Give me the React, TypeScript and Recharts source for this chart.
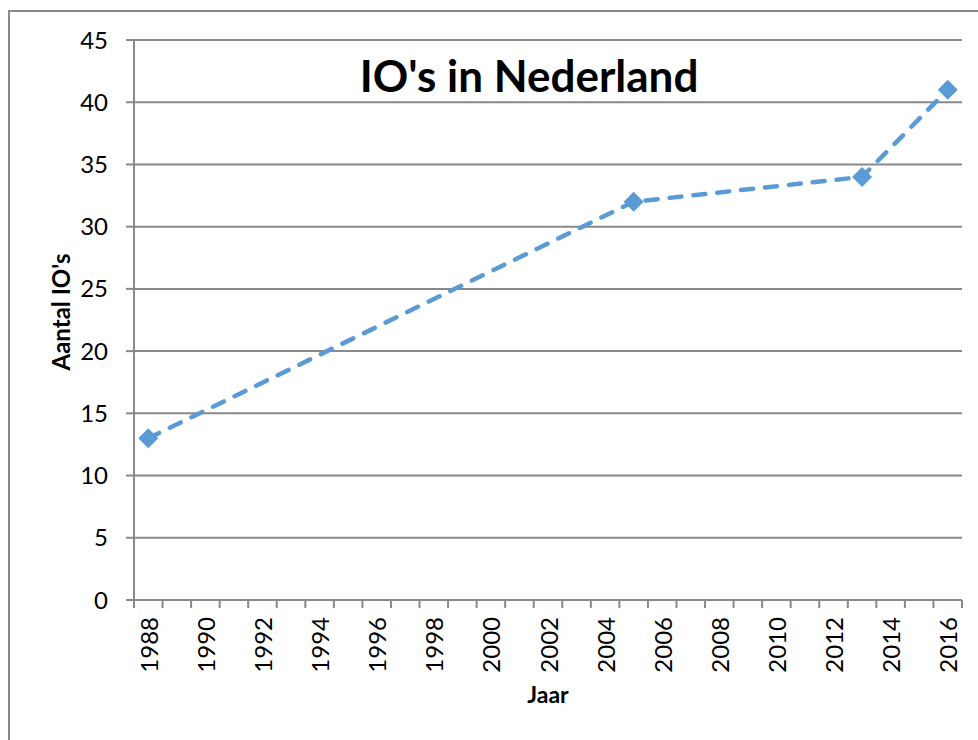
import { LineChart, Line, XAxis, YAxis, CartesianGrid, Customized } from "recharts";

const years = [1988, 2005, 2013, 2016];
const counts = [13, 32, 34, 41];
const yearLabels = [
  1988, 1990, 1992, 1994, 1996, 1998, 2000, 2002, 2004, 2006, 2008, 2010, 2012, 2014, 2016,
];
const countTicks = [0, 5, 10, 15, 20, 25, 30, 35, 40, 45];

const BLUE = "#5b9bd5";
const GREY = "#898989";
const FONT = "Lato, 'Liberation Sans', sans-serif";

const data = years.map((year, i) => ({ year, count: counts[i] }));

// one category per year: tick marks sit on the borders, labels in the middle
const firstYear = yearLabels[0];
const lastYear = yearLabels[yearLabels.length - 1];
const borders: number[] = [];
for (let y = firstYear - 0.5; y <= lastYear + 0.5; y += 1) borders.push(y);
const xTicks = [...borders, ...yearLabels].sort((a, b) => a - b);

function YearTick({ x, y, payload }: any) {
  const v = payload.value;
  if (!Number.isInteger(v)) {
    return <line x1={x} x2={x} y1={y} y2={y + 8} stroke={GREY} strokeWidth={2} />;
  }
  const ty = y + 17;
  return (
    <text
      x={x}
      y={ty}
      transform={`rotate(-90 ${x} ${ty})`}
      textAnchor="end"
      dominantBaseline="central"
      fontFamily={FONT}
      fontSize={24}
      fill="#000"
    >
      {v}
    </text>
  );
}

function YTitle({ viewBox }: any) {
  const cx = viewBox.x + 60;
  const cy = viewBox.y + viewBox.height / 2 - 8;
  return (
    <text
      x={cx}
      y={cy}
      transform={`rotate(-90 ${cx} ${cy})`}
      textAnchor="middle"
      dominantBaseline="central"
      fontFamily={FONT}
      fontWeight="bold"
      fontSize={24}
      fill="#000"
    >
      Aantal IO's
    </text>
  );
}

function Diamond({ cx, cy }: any) {
  if (cx == null || cy == null) return null;
  const r = 10;
  return (
    <polygon
      points={`${cx},${cy - r} ${cx + r},${cy} ${cx},${cy + r} ${cx - r},${cy}`}
      fill={BLUE}
    />
  );
}

function Title() {
  return (
    <text x={529} y={92} textAnchor="middle" fontFamily={FONT} fontWeight="bold" fontSize={44} fill="#000">
      IO's in Nederland
    </text>
  );
}

export default function App() {
  return (
    <div
      style={{
        position: "fixed",
        left: 0,
        top: 0,
        width: 978,
        height: 740,
        overflow: "hidden",
        background: "#fff",
      }}
    >
      <div
        style={{
          position: "absolute",
          left: 8,
          top: 10,
          width: 1100,
          height: 900,
          border: `2px solid ${GREY}`,
        }}
      />
      <div style={{ position: "absolute", left: 0, top: 0 }}>
        <LineChart
          width={978}
          height={740}
          data={data}
          margin={{ top: 40, right: 16, bottom: 0, left: 0 }}
        >
          <CartesianGrid vertical={false} stroke={GREY} strokeWidth={2} />
          <XAxis
            dataKey="year"
            type="number"
            domain={[firstYear - 0.5, lastYear + 0.5]}
            ticks={xTicks}
            interval={0}
            height={140}
            tickSize={0}
            tickMargin={0}
            tickLine={false}
            tick={<YearTick />}
            axisLine={{ stroke: GREY, strokeWidth: 2 }}
            label={{
              value: "Jaar",
              position: "insideBottom",
              offset: 37,
              fontFamily: FONT,
              fontWeight: "bold",
              fontSize: 23,
              fill: "#000",
            }}
          />
          <YAxis
            domain={[0, 45]}
            ticks={countTicks}
            interval={0}
            width={134}
            tickSize={8}
            tickMargin={18}
            tickLine={{ stroke: GREY, strokeWidth: 2 }}
            axisLine={{ stroke: GREY, strokeWidth: 2 }}
            tick={{ fontFamily: FONT, fontSize: 24, fill: "#000" }}
            label={<YTitle />}
          />
          <Line
            type="linear"
            dataKey="count"
            stroke={BLUE}
            strokeWidth={4.5}
            strokeDasharray="12 12"
            strokeLinecap="round"
            dot={<Diamond />}
            activeDot={false}
            isAnimationActive={false}
          />
          <Customized component={Title} />
        </LineChart>
      </div>
    </div>
  );
}
